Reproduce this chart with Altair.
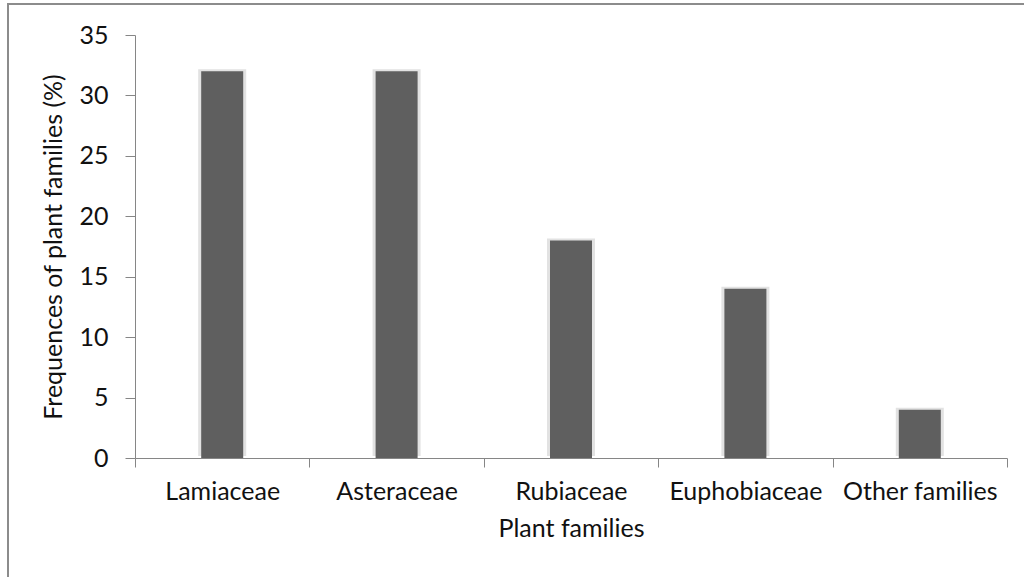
import altair as alt
import pandas as pd

# Share of plant families in the surveyed flora
families = ["Lamiaceae", "Asteraceae", "Rubiaceae", "Euphobiaceae", "Other families"]
frequencies = [32, 32, 18, 14, 4]

df = pd.DataFrame({"family": families, "freq": frequencies})

FONT = "Lato"
FS = 25
AXIS_GRAY = "#868686"
TEXT = "#111111"

x_enc = alt.X(
    "family:N",
    sort=families,
    title="Plant families",
    scale=alt.Scale(paddingInner=0, paddingOuter=0),
    axis=alt.Axis(
        labelAngle=0,
        domainColor=AXIS_GRAY,
        tickColor=AXIS_GRAY,
        tickSize=9,
        tickBand="extent",
        labelPadding=12,
        labelFontSize=FS,
        labelColor=TEXT,
        labelFont=FONT,
        titleFont=FONT,
        titleFontSize=FS,
        titleFontWeight="normal",
        titleColor=TEXT,
        titlePadding=12,
    ),
)

y_enc = alt.Y(
    "freq:Q",
    title="Frequences of plant families (%)",
    scale=alt.Scale(domain=[0, 35], nice=False),
    axis=alt.Axis(
        values=[0, 5, 10, 15, 20, 25, 30, 35],
        grid=False,
        domainColor=AXIS_GRAY,
        tickColor=AXIS_GRAY,
        tickSize=10,
        labelPadding=17,
        labelFontSize=FS,
        labelColor=TEXT,
        labelFont=FONT,
        titleFont=FONT,
        titleFontSize=FS,
        titleFontWeight="normal",
        titleColor=TEXT,
        titlePadding=12,
    ),
)

# soft halo behind each bar
halo = alt.Chart(df).mark_bar(size=48, color="#e2e2e2", yOffset=-2).encode(
    x=x_enc, y=y_enc
)

bars = alt.Chart(df).mark_bar(size=42, color="#5f5f5f").encode(x=x_enc, y=y_enc)

# outer frame around the whole figure
frame = alt.Chart(df.head(1)).mark_rect(
    fill=None, stroke="#8c8c8c", strokeWidth=2
).encode(
    x=alt.value(-127), x2=alt.value(1040), y=alt.value(-31), y2=alt.value(620)
)

chart = (
    alt.layer(frame, halo, bars)
    .properties(
        width=872,
        height=423,
        autosize=alt.AutoSizeParams(type="none"),
        padding={"left": 135, "top": 35, "right": 17, "bottom": 119},
        background="white",
    )
    .configure_view(stroke=None)
)

chart.save("out.html", embed_options={"renderer": "svg", "actions": False})
